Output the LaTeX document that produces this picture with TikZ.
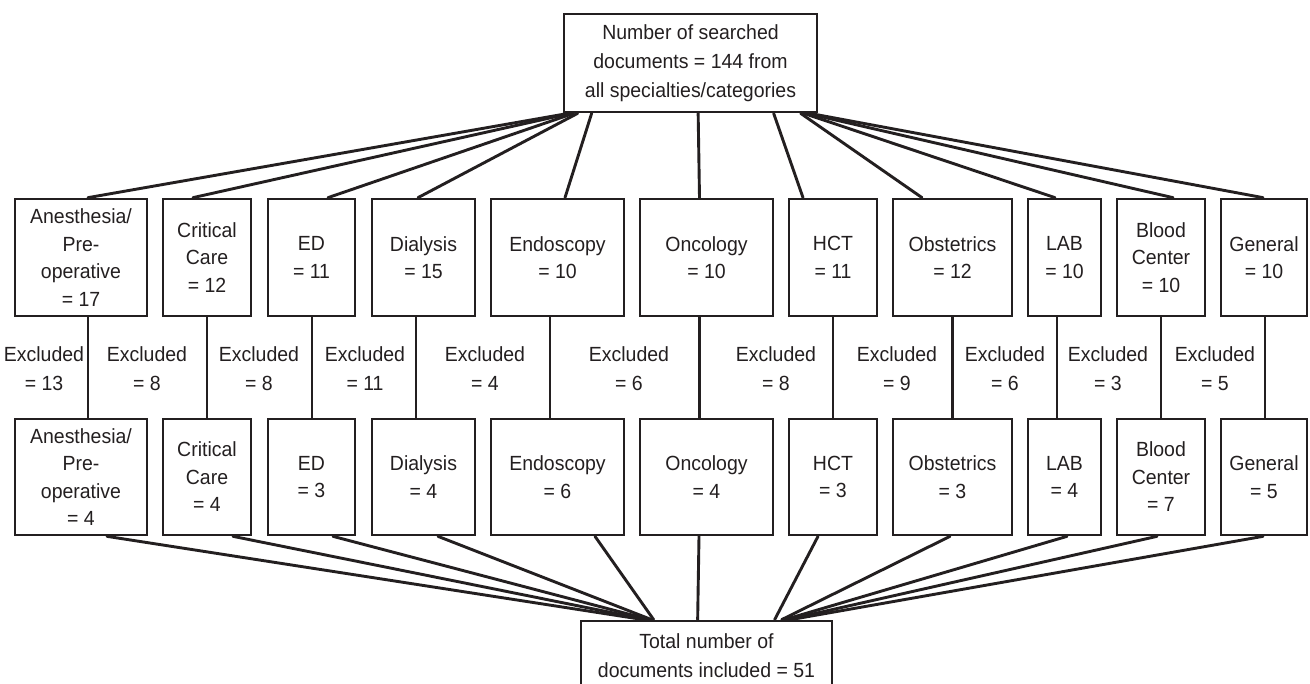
\documentclass[tikz,border=0pt]{standalone}
\usepackage{fontspec}
\setmainfont[FakeStretch=0.95]{Liberation Sans}
\definecolor{ink}{HTML}{231F20}
\begin{document}
\begin{tikzpicture}[x=1pt,y=-1pt,
  box/.style={draw=ink, line width=2.7pt, inner sep=0pt, align=center, text=ink,
    font=\fontsize{20.5}{27.5}\selectfont},
  lbl/.style={inner sep=0pt, align=center, text=ink,
    font=\fontsize{20.5}{29}\selectfont},
  conn/.style={draw=ink, line width=2.9pt, line cap=round}]
\useasboundingbox (0,0) rectangle (1310,684);
\clip (0,0) rectangle (1310,684);

% top and bottom boxes
\node[box, minimum width=253pt, minimum height=98pt, font=\fontsize{20.5}{29}\selectfont] (top) at (690.5,63)
  {Number of searched\\documents = 144 from\\all specialties/categories};
\node[box, minimum width=251pt, minimum height=69pt, font=\fontsize{20.5}{29}\selectfont] (bot) at (706.5,655.5)
  {Total number of\\documents included = 51};

% row 1 and row 2
\foreach \n/\x/\w/\t/\u in {
  a/81/132/{Anesthesia/\\Pre-\\operative\\= 17}/{Anesthesia/\\Pre-\\operative\\= 4},
  b/207/88/{Critical\\Care\\= 12}/{Critical\\Care\\= 4},
  c/311.5/87/{ED\\= 11}/{ED\\= 3},
  d/423.5/103/{Dialysis\\= 15}/{Dialysis\\= 4},
  e/557.5/133/{Endoscopy\\= 10}/{Endoscopy\\= 6},
  f/706.5/133/{Oncology\\= 10}/{Oncology\\= 4},
  g/833/88/{HCT\\= 11}/{HCT\\= 3},
  h/952.5/119/{Obstetrics\\= 12}/{Obstetrics\\= 3},
  i/1064.5/73/{LAB\\= 10}/{LAB\\= 4},
  j/1161/88/{Blood\\Center\\= 10}/{Blood\\Center\\= 7},
  k/1264/86/{General\\= 10}/{General\\= 5}}
{
  \node[box, minimum width=\w pt, minimum height=117pt] (r1\n) at (\x,257.5) {\t};
  \node[box, minimum width=\w pt, minimum height=116pt] (r2\n) at (\x,477) {\u};
}

% excluded labels
\foreach \n/\x/\v in {a/44/13, b/147/8, c/259/8, d/365/11, e/485/4, f/629/6,
  g/776/8, h/897/9, i/1005/6, j/1108/3, k/1215/5}
{
  \node[lbl] (ex\n) at (\x,369) {Excluded\\= \v};
}

% vertical connectors row1 -> row2
\foreach \n/\d in {a/7, b/0, c/0.5, d/-7.5, e/-7.5, f/-7, g/0, h/0, i/-7.5, j/0, k/1}
{
  \draw[conn] ([xshift=\d pt]r1\n.south) -- ([xshift=\d pt]r2\n.north);
}

% top fan
\foreach \n/\s/\e in {a/6/7, b/8/-14, c/11/16.5, d/15/-5.5, e/29/7.5, f/135.5/-7,
  g/211/-30, h/238/-30.5, i/241/-9.5, j/244/12, k/247/-1}
{
  \draw[conn] ([xshift=\s pt]top.south west) -- ([xshift=\e pt]r1\n.north);
}

% bottom fan
\foreach \n/\s/\e in {a/26/64, b/26/67, c/21.5/70, d/14.5/72, e/37.5/74, f/-7.5/118,
  g/-15/195, h/-2.5/202, i/2.5/205, j/-4/208, k/-1/211}
{
  \draw[conn] ([xshift=\s pt]r2\n.south) -- ([xshift=\e pt]bot.north west);
}
\end{tikzpicture}
\end{document}
